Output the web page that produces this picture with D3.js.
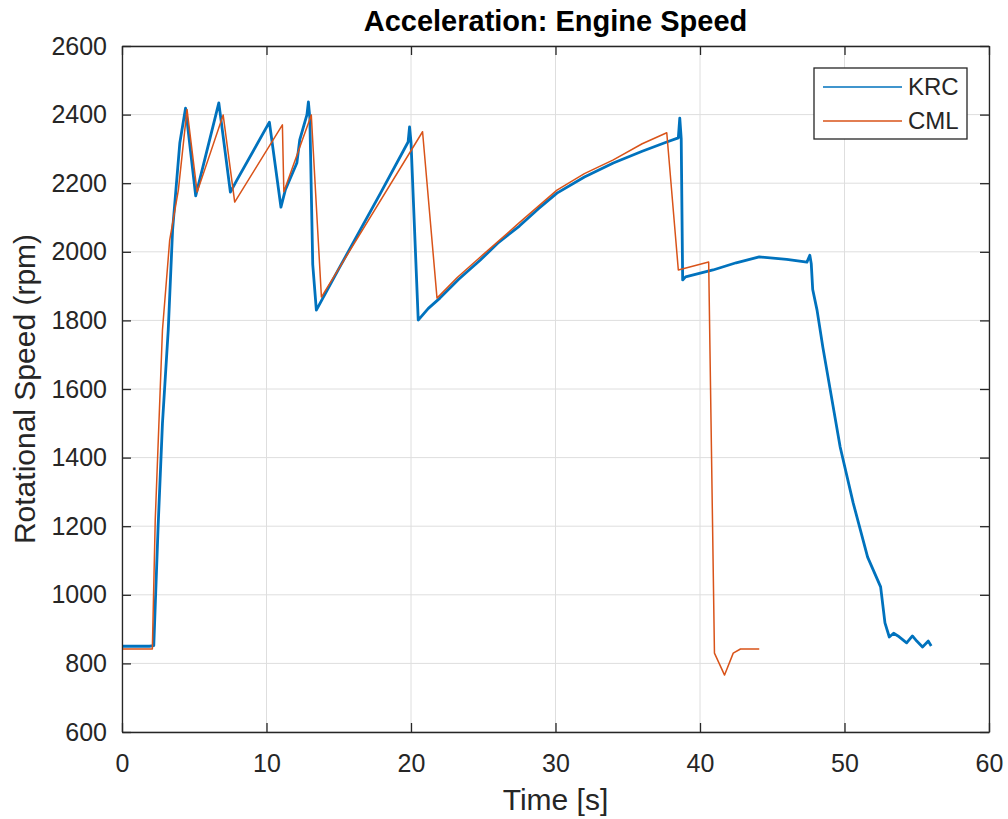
<!DOCTYPE html>
<html lang="en">
<head>
<meta charset="UTF-8">
<title>Acceleration: Engine Speed</title>
<script src="https://d3js.org/d3.v7.min.js"></script>
<style>
  body { margin: 0; background: #fff; }
  text { font-family: "Liberation Sans", Arial, Helvetica, sans-serif; }
</style>
</head>
<body>
<script>
  // KRC (measured) engine speed
  var krcTime = [0, 1.9, 2.2, 2.5, 2.8, 3.2, 3.5, 4.0, 4.4, 5.1, 6.7, 7.5, 7.95, 10.2, 11.0, 11.3, 12.1, 12.3, 12.8, 12.9, 13.0, 13.2, 13.45,
    15.0, 17.9, 19.8, 19.9, 20.0, 20.5, 21.2, 22.0, 23.3, 24.8, 26.0, 27.5, 28.8, 30.1, 32.0, 34.0, 36.0, 37.7, 38.5, 38.6, 38.7, 38.8, 39.0,
    40.9, 42.5, 44.1, 46.0, 47.4, 47.6, 47.7, 47.8,
    48.1, 48.5, 49.7, 50.6, 51.6, 52.5, 52.8, 53.1, 53.4, 53.7, 54.3, 54.7, 55.0, 55.4, 55.8, 56.0];
  var krcRpm = [850, 850, 852, 1200, 1500, 1772, 2063, 2317, 2419, 2163, 2434, 2174, 2209, 2378, 2130, 2180, 2259, 2326, 2400, 2437, 2390, 1963, 1830,
    1950, 2172, 2320, 2364, 2320, 1801, 1835, 1865, 1920, 1976, 2025, 2075, 2125, 2171, 2218, 2259, 2293, 2320, 2332, 2390, 2330, 1918, 1927,
    1947, 1968, 1985, 1978, 1970, 1990, 1965, 1890,
    1830, 1722, 1431, 1268, 1110, 1023, 918, 877, 888, 880, 860, 880, 865, 848, 865, 851];

  // CML (simulated) engine speed
  var cmlTime = [0, 2.1, 2.3, 2.8, 3.3, 3.9, 4.5, 5.2, 7.0, 7.8, 11.1, 11.2, 13.1, 13.8, 20.8, 21.8, 23.2, 24.8, 27.5, 30.1, 32.0, 34.0, 36.0,
    37.7, 38.5, 40.6, 40.8, 41.0, 41.7, 42.3, 42.8, 44.1];
  var cmlRpm = [842, 842, 1218, 1772, 2034, 2180, 2415, 2174, 2399, 2145, 2370, 2175, 2399, 1868, 2350, 1865, 1925, 1985, 2085, 2180, 2228, 2268, 2315,
    2347, 1947, 1970, 1400, 830, 766, 830, 842, 842];

  var xTicks = [0, 10, 20, 30, 40, 50, 60];
  var yTicks = [600, 800, 1000, 1200, 1400, 1600, 1800, 2000, 2200, 2400, 2600];

  var width = 1008, height = 819;
  var margin = { top: 46, right: 19, bottom: 87, left: 122 };
  var plotW = width - margin.left - margin.right;
  var plotH = height - margin.top - margin.bottom;

  var svg = d3.select("body").append("svg")
    .attr("width", width)
    .attr("height", height);

  var g = svg.append("g")
    .attr("transform", `translate(${margin.left},${margin.top})`);

  var x = d3.scaleLinear().domain([0, 60]).range([0, plotW]);
  var y = d3.scaleLinear().domain([600, 2600]).range([plotH, 0]);

  var axisColor = "#262626";

  // grid
  g.append("g").selectAll("line")
    .data(xTicks)
    .enter().append("line")
    .attr("x1", d => x(d)).attr("x2", d => x(d))
    .attr("y1", 0).attr("y2", plotH)
    .attr("stroke", "#dedede").attr("stroke-width", 1);

  g.append("g").selectAll("line")
    .data(yTicks)
    .enter().append("line")
    .attr("x1", 0).attr("x2", plotW)
    .attr("y1", d => y(d)).attr("y2", d => y(d))
    .attr("stroke", "#dedede").attr("stroke-width", 1);

  // lines
  var lineKrc = d3.line().x((d, i) => x(krcTime[i])).y(d => y(d));
  var lineCml = d3.line().x((d, i) => x(cmlTime[i])).y(d => y(d));

  g.append("path")
    .datum(krcRpm)
    .attr("fill", "none")
    .attr("stroke", "#0072BD")
    .attr("stroke-width", 2.8)
    .attr("stroke-linejoin", "round")
    .attr("d", lineKrc);

  g.append("path")
    .datum(cmlRpm)
    .attr("fill", "none")
    .attr("stroke", "#D95319")
    .attr("stroke-width", 1.5)
    .attr("stroke-linejoin", "round")
    .attr("d", lineCml);

  // axes (ticks pointing inward, box on)
  var tickLen = 9;
  g.append("g")
    .attr("transform", `translate(0,${plotH})`)
    .call(d3.axisBottom(x).tickValues(xTicks).tickFormat(d3.format("d"))
      .tickSizeInner(-tickLen).tickSizeOuter(0).tickPadding(22));
  g.append("g")
    .call(d3.axisLeft(y).tickValues(yTicks).tickFormat(d3.format("d"))
      .tickSizeInner(-tickLen).tickSizeOuter(0).tickPadding(15));
  g.append("g")
    .attr("transform", `translate(${plotW},0)`)
    .call(d3.axisRight(y).tickValues(yTicks).tickSizeInner(-tickLen).tickSizeOuter(0).tickFormat(""));
  g.append("g")
    .call(d3.axisTop(x).tickValues(xTicks).tickSizeInner(-tickLen).tickSizeOuter(0).tickFormat(""));

  g.selectAll(".domain").attr("stroke", axisColor).attr("stroke-width", 1.3);
  g.selectAll(".tick line").attr("stroke", axisColor).attr("stroke-width", 1.3);
  g.selectAll(".tick text")
    .attr("fill", axisColor)
    .style("font-size", "25px")
    .style("font-family", "'Liberation Sans', Arial, sans-serif");

  // title and labels
  svg.append("text")
    .attr("x", margin.left + plotW / 2)
    .attr("y", 31)
    .attr("text-anchor", "middle")
    .style("font-size", "29px")
    .style("font-weight", "bold")
    .attr("fill", "#000")
    .text("Acceleration: Engine Speed");

  svg.append("text")
    .attr("x", margin.left + plotW / 2)
    .attr("y", 810)
    .attr("text-anchor", "middle")
    .style("font-size", "30px")
    .attr("fill", axisColor)
    .text("Time [s]");

  svg.append("text")
    .attr("transform", `translate(35,${margin.top + plotH / 2}) rotate(-90)`)
    .attr("text-anchor", "middle")
    .style("font-size", "30px")
    .attr("fill", axisColor)
    .text("Rotational Speed (rpm)");

  // legend
  var legend = svg.append("g").attr("transform", "translate(814,68)");
  legend.append("rect")
    .attr("width", 153).attr("height", 71)
    .attr("fill", "#fff")
    .attr("stroke", axisColor).attr("stroke-width", 1.3);

  var series = [
    { name: "KRC", color: "#0072BD" },
    { name: "CML", color: "#D95319" }
  ];
  series.forEach((s, i) => {
    var cy = 19 + i * 34;
    legend.append("line")
      .attr("x1", 9).attr("x2", 88)
      .attr("y1", cy).attr("y2", cy)
      .attr("stroke", s.color).attr("stroke-width", 1.6);
    legend.append("text")
      .attr("x", 94).attr("y", cy + 8)
      .style("font-size", "24px")
      .attr("fill", axisColor)
      .text(s.name);
  });
</script>
</body>
</html>
